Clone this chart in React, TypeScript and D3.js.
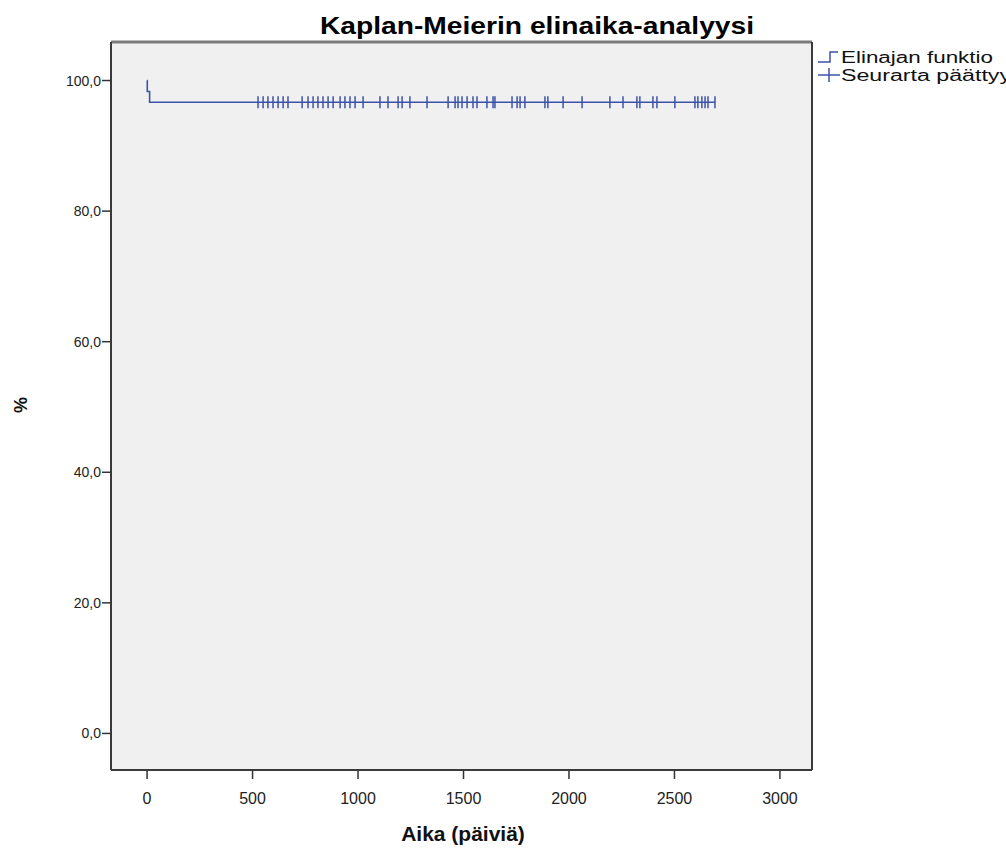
import React from "react";
import * as d3 from "d3";

const title = "Kaplan-Meierin elinaika-analyysi";
const xLabel = "Aika (päiviä)";
const yLabel = "%";
const xTicks = [0, 500, 1000, 1500, 2000, 2500, 3000];
const yTicks = [0, 20, 40, 60, 80, 100];
const legendLabels = ["Elinajan funktio", "Seurarta päättyy"];

// Kaplan-Meier step points (time in days, survival %)
const kmTimes = [0, 1, 12, 2692];
const kmSurvival = [100, 98.33, 96.67, 96.67];

// censored observation times (days)
const censoredTimes = [
  526, 550, 573, 597, 621, 645, 668, 735, 763, 787, 810, 834, 858, 882, 915, 938,
  962, 986, 1024, 1104, 1142, 1190, 1209, 1246, 1327, 1427, 1460, 1474, 1493, 1517,
  1545, 1564, 1611, 1640, 1649, 1730, 1754, 1768, 1791, 1886, 1900, 1972, 2062, 2194,
  2256, 2322, 2336, 2398, 2417, 2502, 2597, 2611, 2630, 2645, 2659, 2692,
];

const W = 1006;
const H = 852;
const L = 111, R = 812, T = 42, B = 770;
const BLUE = "#3d53a9";

export default function App() {
  const x = d3.scaleLinear().domain([-171, 3152]).range([L, R]);
  const y = d3.scaleLinear().domain([-5.6, 105.9]).range([B, T]);

  const pts: [number, number][] = kmTimes.map((t, i) => [t, kmSurvival[i]]);
  const line = d3
    .line<[number, number]>()
    .x((d) => x(d[0]))
    .y((d) => y(d[1]))
    .curve(d3.curveStepAfter);

  const survAt = (t: number) => {
    let s = kmSurvival[0];
    kmTimes.forEach((kt, i) => {
      if (kt <= t) s = kmSurvival[i];
    });
    return s;
  };

  const font = "'Liberation Sans', Arial, sans-serif";

  return (
    <svg
      width={W}
      height={H}
      style={{ position: "absolute", left: 0, top: 0, background: "#fff" }}
      fontFamily={font}
    >
      <rect x={0} y={0} width={W} height={H} fill="#fff" />
      <text
        x={537}
        y={34}
        textAnchor="middle"
        fontSize={24}
        fontWeight="bold"
        textLength={434}
        lengthAdjust="spacingAndGlyphs"
        fill="#000"
      >
        {title}
      </text>

      {/* plot background */}
      <rect x={L} y={T} width={R - L} height={B - T} fill="#f0f0f0" />
      <line x1={L} x2={R} y1={T} y2={T} stroke="#7a7a7a" strokeWidth={3} />
      <line x1={R} x2={R} y1={T} y2={B} stroke="#3a3a3a" strokeWidth={2} />
      <line x1={L} x2={R} y1={B} y2={B} stroke="#3a3a3a" strokeWidth={2} />
      <line x1={L} x2={L} y1={T} y2={B} stroke="#3a3a3a" strokeWidth={2} />

      {/* y ticks */}
      {yTicks.map((v) => (
        <g key={v}>
          <line x1={L - 9} x2={L} y1={y(v)} y2={y(v)} stroke="#333" strokeWidth={1.5} />
          <text
            x={L - 10}
            y={y(v) + 5}
            textAnchor="end"
            fontSize={14}
            fill="#222"
          >
            {d3.format(".1f")(v).replace(".", ",")}
          </text>
        </g>
      ))}

      {/* x ticks */}
      {xTicks.map((v) => (
        <g key={v}>
          <line x1={x(v)} x2={x(v)} y1={B} y2={B + 9} stroke="#333" strokeWidth={1.5} />
          <text x={x(v)} y={804} textAnchor="middle" fontSize={16} fill="#222">
            {v}
          </text>
        </g>
      ))}

      <text x={463} y={841} textAnchor="middle" fontSize={21} fontWeight="bold" fill="#111">
        {xLabel}
      </text>
      <text
        transform={`translate(27,405) rotate(-90)`}
        textAnchor="middle"
        fontSize={18}
        fontWeight="bold"
        fill="#111"
      >
        {yLabel}
      </text>

      {/* KM curve */}
      <path d={line(pts) ?? ""} fill="none" stroke={BLUE} strokeWidth={1.6} />
      {censoredTimes.map((t, i) => (
        <line
          key={i}
          x1={x(t)}
          x2={x(t)}
          y1={y(survAt(t)) - 6}
          y2={y(survAt(t)) + 6}
          stroke={BLUE}
          strokeWidth={1.5}
        />
      ))}

      {/* legend */}
      <path d="M818,62 H830 V52 H838" fill="none" stroke={BLUE} strokeWidth={1.5} />
      <text x={841} y={63} fontSize={16} textLength={152} lengthAdjust="spacingAndGlyphs" fill="#111">
        {legendLabels[0]}
      </text>
      <line x1={818} x2={840} y1={75} y2={75} stroke={BLUE} strokeWidth={1.5} />
      <line x1={829} x2={829} y1={68} y2={82} stroke={BLUE} strokeWidth={1.5} />
      <text x={841} y={81} fontSize={16} textLength={170} lengthAdjust="spacingAndGlyphs" fill="#111">
        {legendLabels[1]}
      </text>
    </svg>
  );
}
